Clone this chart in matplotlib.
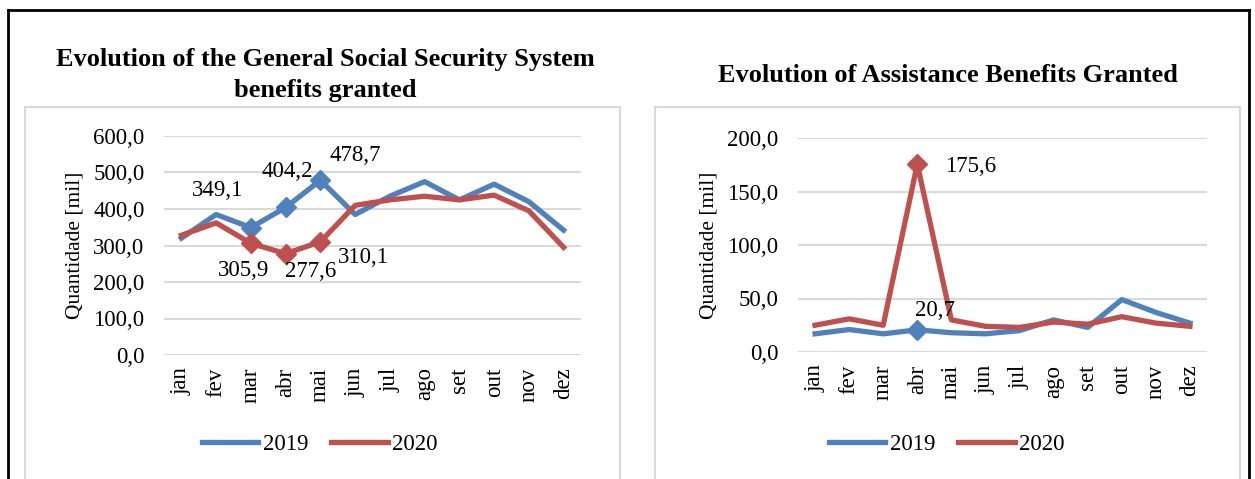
import matplotlib.pyplot as plt
from matplotlib.patches import Rectangle
from matplotlib.lines import Line2D

# dados
meses = ["jan", "fev", "mar", "abr", "mai", "jun", "jul", "ago", "set", "out", "nov", "dez"]

geral_2019 = [320, 385, 349.1, 404.2, 478.7, 385, 435, 475, 425, 468, 420, 342]
geral_2020 = [328, 362, 305.9, 277.6, 310.1, 410, 425, 435, 425, 438, 395, 295]

assist_2019 = [17, 21, 17, 20.7, 18, 17, 20, 30, 23, 49, 37, 27]
assist_2020 = [25, 31, 25, 175.6, 30, 24, 23, 28, 26, 33, 27, 24]

titulo_esq = "Evolution of the General Social Security System\nbenefits granted"
titulo_dir = "Evolution of Assistance Benefits Granted"

AZUL = "#4F81BD"
VERMELHO = "#C0504D"
GRELHA = "#D9D9D9"
SERIF = ["Liberation Serif", "DejaVu Serif"]
TAM = 16.5
LW = 3.8

W, H = 1255, 479
fig = plt.figure(figsize=(W / 100, H / 100), dpi=100)


def px(x0, y0, x1, y1):
    # caixa em pixels (origem no topo) -> coordenadas da figura
    return [x0 / W, 1 - y1 / H, (x1 - x0) / W, (y1 - y0) / H]


# moldura exterior preta
fig.add_artist(Line2D([8 / W, 8 / W], [0, 1 - 10 / H], color="black", lw=2))
fig.add_artist(Line2D([8 / W, 1249 / W], [1 - 10 / H, 1 - 10 / H], color="black", lw=2))
fig.add_artist(Line2D([1249 / W, 1249 / W], [0, 1 - 10 / H], color="black", lw=2))

# caixas cinzentas dos graficos
for x0, x1 in [(25, 620), (655, 1240)]:
    b = px(x0, 107, x1, 490)
    fig.add_artist(Rectangle((b[0], b[1]), b[2], b[3], transform=fig.transFigure,
                             fill=False, edgecolor=GRELHA, lw=1.5))


def grafico(rect, s2019, s2020, ymax, passo, marcas, rotulos):
    ax = fig.add_axes(rect)
    x = list(range(len(meses)))
    ax.plot(x, s2019, color=AZUL, lw=LW, marker="D", markersize=10.5,
            markevery=marcas, solid_joinstyle="round")
    ax.plot(x, s2020, color=VERMELHO, lw=LW, marker="D", markersize=10.5,
            markevery=marcas, solid_joinstyle="round")
    ax.set_xlim(-0.5, len(meses) - 0.5)
    ax.set_ylim(0, ymax)
    ticks = [i * passo for i in range(int(ymax / passo) + 1)]
    ax.set_yticks(ticks)
    ax.set_yticklabels([f"{t:.1f}".replace(".", ",") for t in ticks],
                       family=SERIF, fontsize=TAM)
    ax.set_xticks(x)
    ax.set_xticklabels(meses, rotation=90, family=SERIF, fontsize=TAM)
    ax.tick_params(axis="y", length=0, pad=14)
    ax.tick_params(axis="x", length=0, pad=9)
    ax.grid(axis="y", color=GRELHA, lw=1.5)
    ax.set_axisbelow(True)
    for s in ax.spines.values():
        s.set_visible(False)
    ax.set_ylabel("Quantidade [mil]", family=SERIF, fontsize=15.5, labelpad=6)
    for serie, i, dx, dy in rotulos:
        v = serie[i]
        ax.annotate(f"{v:.1f}".replace(".", ","), (i, v), xytext=(dx, dy),
                    textcoords="offset pixels", ha="center", va="center",
                    family=SERIF, fontsize=TAM)
    # legenda so com linha
    alcas = [Line2D([], [], color=AZUL, lw=LW), Line2D([], [], color=VERMELHO, lw=LW)]
    return ax, alcas


ax1, h1 = grafico(px(164, 136, 581, 355), geral_2019, geral_2020, 600, 100, [2, 3, 4],
                  [(geral_2019, 2, -33, 37), (geral_2019, 3, 2, 36), (geral_2019, 4, 35, 25),
                   (geral_2020, 2, -7, -27), (geral_2020, 3, 25, -18), (geral_2020, 4, 43, -16)])
ax2, h2 = grafico(px(798, 138, 1207, 352), assist_2019, assist_2020, 200, 50, [3],
                  [(assist_2020, 3, 53, -2), (assist_2019, 3, 18, 19)])

fig.text(325 / W, 1 - 75 / H, titulo_esq, ha="center", va="center", family=SERIF,
         fontsize=19, fontweight="bold", linespacing=1.42)
fig.text(948 / W, 1 - 75 / H, titulo_dir, ha="center", va="center", family=SERIF,
         fontsize=19, fontweight="bold")

for ax, h, xc in [(ax1, h1, 320 / W), (ax2, h2, 947 / W)]:
    ax.legend(h, ["2019", "2020"], loc="center", bbox_to_anchor=(xc, 1 - 444 / H),
              bbox_transform=fig.transFigure, ncol=2, frameon=False, handlelength=2.45,
              handletextpad=0.2, columnspacing=1.0, prop={"family": SERIF, "size": TAM})

fig.savefig("out.png", dpi=100)
